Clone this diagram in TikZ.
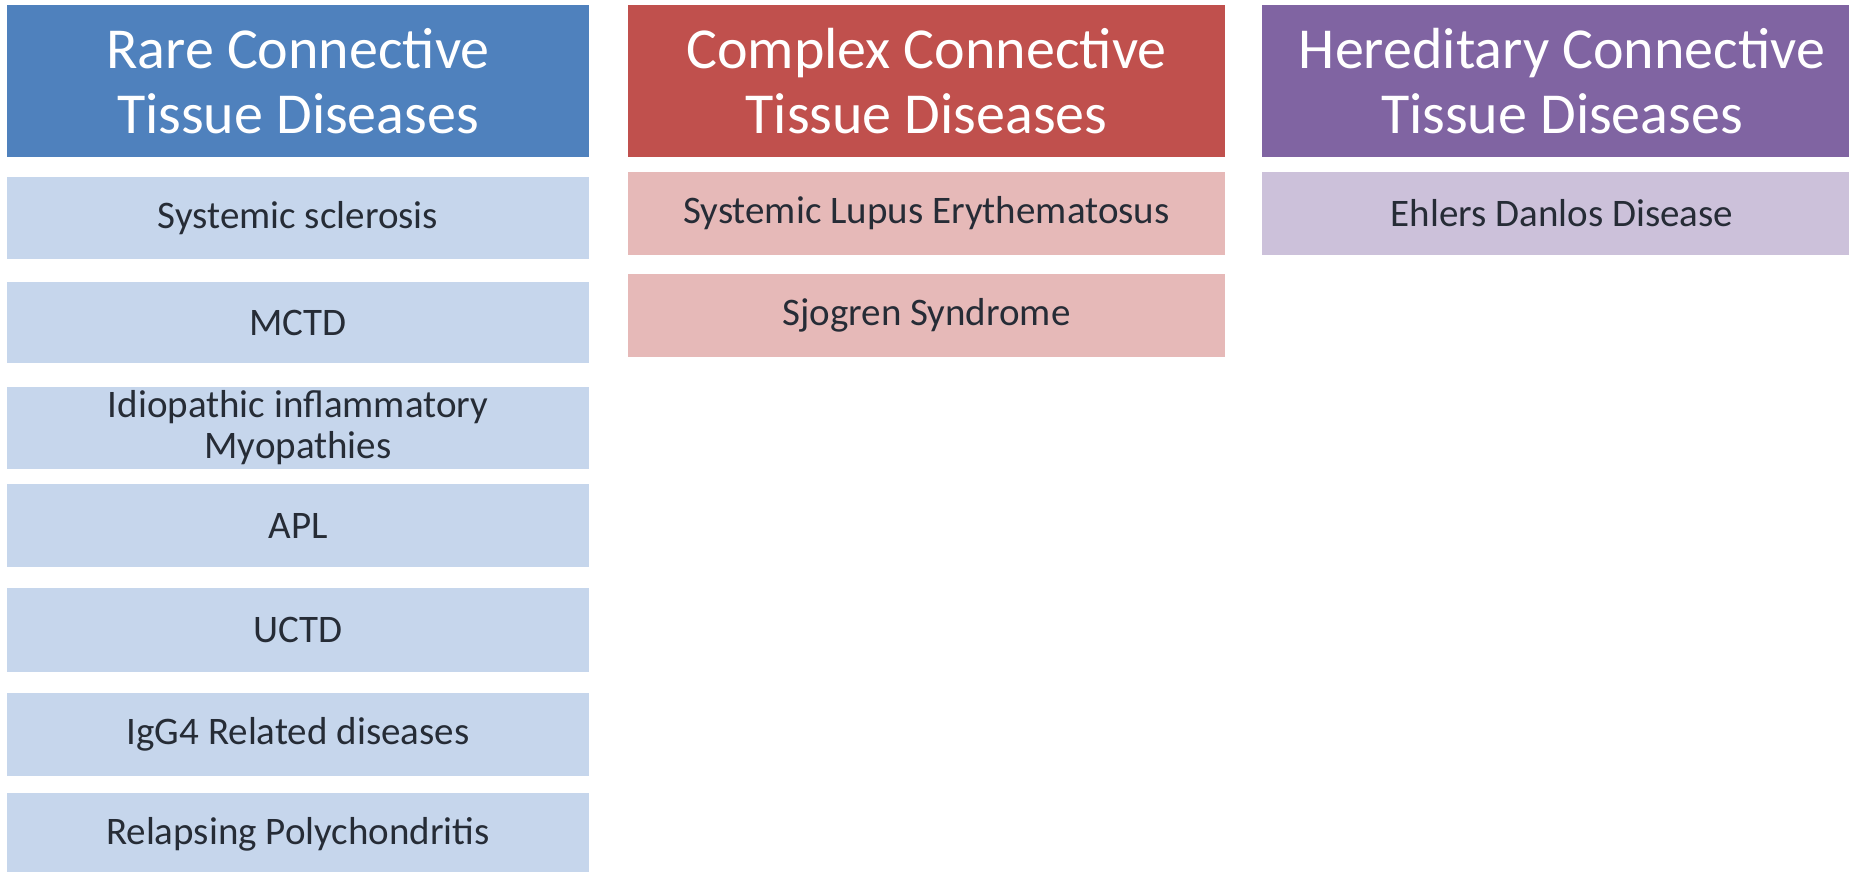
\documentclass[tikz,border=0pt]{standalone}
\usepackage{fontspec}
\setmainfont{Carlito}
\definecolor{blueH}{HTML}{4F81BD}
\definecolor{blueL}{HTML}{C6D6EC}
\definecolor{redH}{HTML}{C0504D}
\definecolor{redL}{HTML}{E6B9B8}
\definecolor{purH}{HTML}{8064A2}
\definecolor{purL}{HTML}{CCC1DA}
\definecolor{txt}{HTML}{262C36}
\tikzset{
  head/.style={inner sep=0pt, align=center, text=white, font=\fontsize{29}{32.5}\selectfont, minimum height=76pt},
  item/.style={inner sep=0pt, align=center, text=txt, font=\fontsize{19.5}{20.5}\selectfont},
  rarecol/.style={minimum width=291pt},
  cplxcol/.style={minimum width=298.5pt},
  herecol/.style={minimum width=300pt},
}
\begin{document}
\begin{tikzpicture}[x=0.5pt,y=-0.5pt]
\useasboundingbox (0,0) rectangle (1849,872);
\clip (0,0) rectangle (1849,872);
% Rare column
\node[head, rarecol, fill=blueH] (h1) at (298,81) {Rare Connective\\Tissue Diseases};
\node[item, rarecol, fill=blueL, minimum height=41pt] (r1) at (298,218) {Systemic sclerosis};
\node[item, rarecol, fill=blueL, minimum height=40.5pt] (r2) at (298,322.5) {MCTD};
\node[item, rarecol, fill=blueL, minimum height=41pt] (r3) at (298,428) {Idiopathic inflammatory\\Myopathies};
\node[item, rarecol, fill=blueL, minimum height=41.5pt] (r4) at (298,525.5) {APL};
\node[item, rarecol, fill=blueL, minimum height=42pt] (r5) at (298,630) {UCTD};
\node[item, rarecol, fill=blueL, minimum height=41.5pt] (r6) at (298,734.5) {IgG4 Related diseases};
\node[item, rarecol, fill=blueL, minimum height=41pt] (r7) at (298,834) {Relapsing Polychondritis};
% Complex column
\node[head, cplxcol, fill=redH] (h2) at (926.5,81) {Complex Connective\\Tissue Diseases};
\node[item, cplxcol, fill=redL, minimum height=41.5pt] (c1) at (926.5,213.5) {Systemic Lupus Erythematosus};
\node[item, cplxcol, fill=redL, minimum height=41.5pt] (c2) at (926.5,315.5) {Sjogren Syndrome};
% Hereditary column
\node[head, herecol, fill=purH] (h3) at (1562,81) {Hereditary Connective\\Tissue Diseases};
\node[item, herecol, fill=purL, minimum height=41.5pt] (e1) at (1562,213.5) {Ehlers Danlos Disease};
\end{tikzpicture}
\end{document}
